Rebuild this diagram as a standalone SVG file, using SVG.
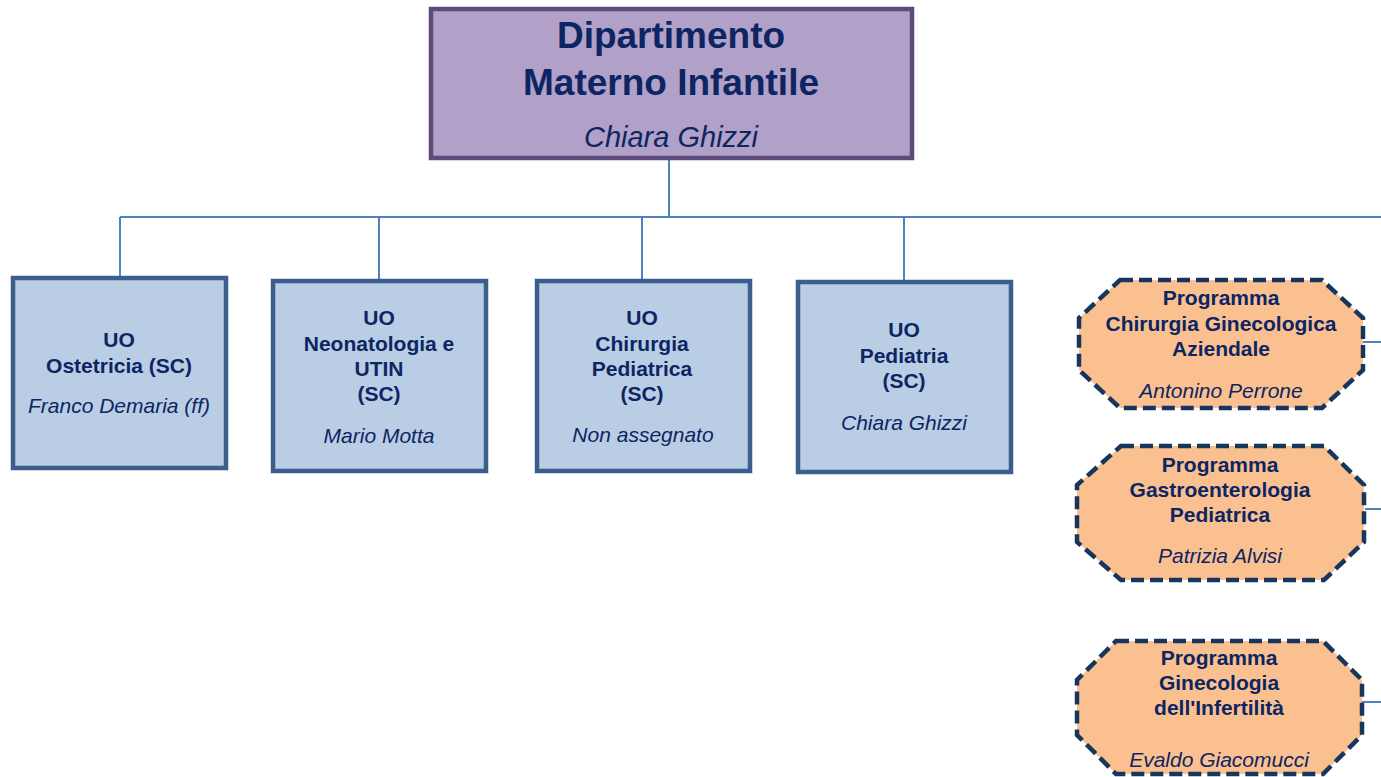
<svg xmlns="http://www.w3.org/2000/svg" width="1381" height="777" viewBox="0 0 1381 777">
<style>
text{font-family:"Liberation Sans",Arial,sans-serif;fill:#0D2562;text-anchor:middle}
.b{font-weight:bold;font-size:21px}
.i{font-style:italic;font-size:21px}
.uo{fill:#B9CDE5;stroke:#3B5E8C;stroke-width:4.5}
.pg{fill:#FAC090;stroke:#17365D;stroke-width:4.5;stroke-dasharray:13 6}
.c{stroke:#4F81BD;stroke-width:2;fill:none}
</style>
<rect width="1381" height="777" fill="#fff"/>
<g id="connectors">
<path class="c" d="M669 158V217M120 217H1381M120 217V277M379 217V280M642 217V280M904 217V281M1363 342H1381M1365 509H1381M1362 702H1381"/>
</g>
<g id="dip">
<rect x="431" y="9" width="481" height="149" fill="#B1A0C7" stroke="#5F4B7B" stroke-width="4.5"/>
<text x="671" y="48" style="font-weight:bold;font-size:37px">Dipartimento</text>
<text x="671" y="95" style="font-weight:bold;font-size:37px">Materno Infantile</text>
<text x="671" y="147" style="font-style:italic;font-size:29px">Chiara Ghizzi</text>
</g>
<g id="ostetricia">
<rect class="uo" x="13" y="278" width="213" height="190"/>
<text class="b" x="119" y="347">UO</text>
<text class="b" x="119" y="373">Ostetricia (SC)</text>
<text class="i" x="119" y="413">Franco Demaria (ff)</text>
</g>
<g id="neonatologia">
<rect class="uo" x="273" y="281" width="213" height="190"/>
<text class="b" x="379" y="325">UO</text>
<text class="b" x="379" y="351">Neonatologia e</text>
<text class="b" x="379" y="376">UTIN</text>
<text class="b" x="379" y="401">(SC)</text>
<text class="i" x="379" y="443">Mario Motta</text>
</g>
<g id="chirurgia">
<rect class="uo" x="537" y="281" width="213" height="190"/>
<text class="b" x="642" y="325">UO</text>
<text class="b" x="642" y="351">Chirurgia</text>
<text class="b" x="642" y="376">Pediatrica</text>
<text class="b" x="642" y="401">(SC)</text>
<text class="i" x="643" y="442">Non assegnato</text>
</g>
<g id="pediatria">
<rect class="uo" x="798" y="282" width="213" height="190"/>
<text class="b" x="904" y="337">UO</text>
<text class="b" x="904" y="363">Pediatria</text>
<text class="b" x="904" y="388">(SC)</text>
<text class="i" x="904" y="430">Chiara Ghizzi</text>
</g>
<g id="prog-chirurgia">
<polygon class="pg" points="1120,280 1322,280 1363,318 1363,370 1322,408 1120,408 1079,370 1079,318"/>
<text class="b" x="1221" y="305">Programma</text>
<text class="b" x="1221" y="331">Chirurgia Ginecologica</text>
<text class="b" x="1221" y="356">Aziendale</text>
<text class="i" x="1221" y="398">Antonino Perrone</text>
</g>
<g id="prog-gastro">
<polygon class="pg" points="1121,446 1324,446 1364,485 1364,542 1324,580 1121,580 1077,542 1077,485"/>
<text class="b" x="1220" y="472">Programma</text>
<text class="b" x="1220" y="497">Gastroenterologia</text>
<text class="b" x="1220" y="522">Pediatrica</text>
<text class="i" x="1220" y="563">Patrizia Alvisi</text>
</g>
<g id="prog-ginecologia">
<polygon class="pg" points="1116,641 1323,641 1362,680 1362,735 1323,774 1116,774 1077,735 1077,680"/>
<text class="b" x="1219" y="665">Programma</text>
<text class="b" x="1219" y="690">Ginecologia</text>
<text class="b" x="1219" y="715">dell'Infertilità</text>
<text class="i" x="1219" y="767">Evaldo Giacomucci</text>
</g>
</svg>
